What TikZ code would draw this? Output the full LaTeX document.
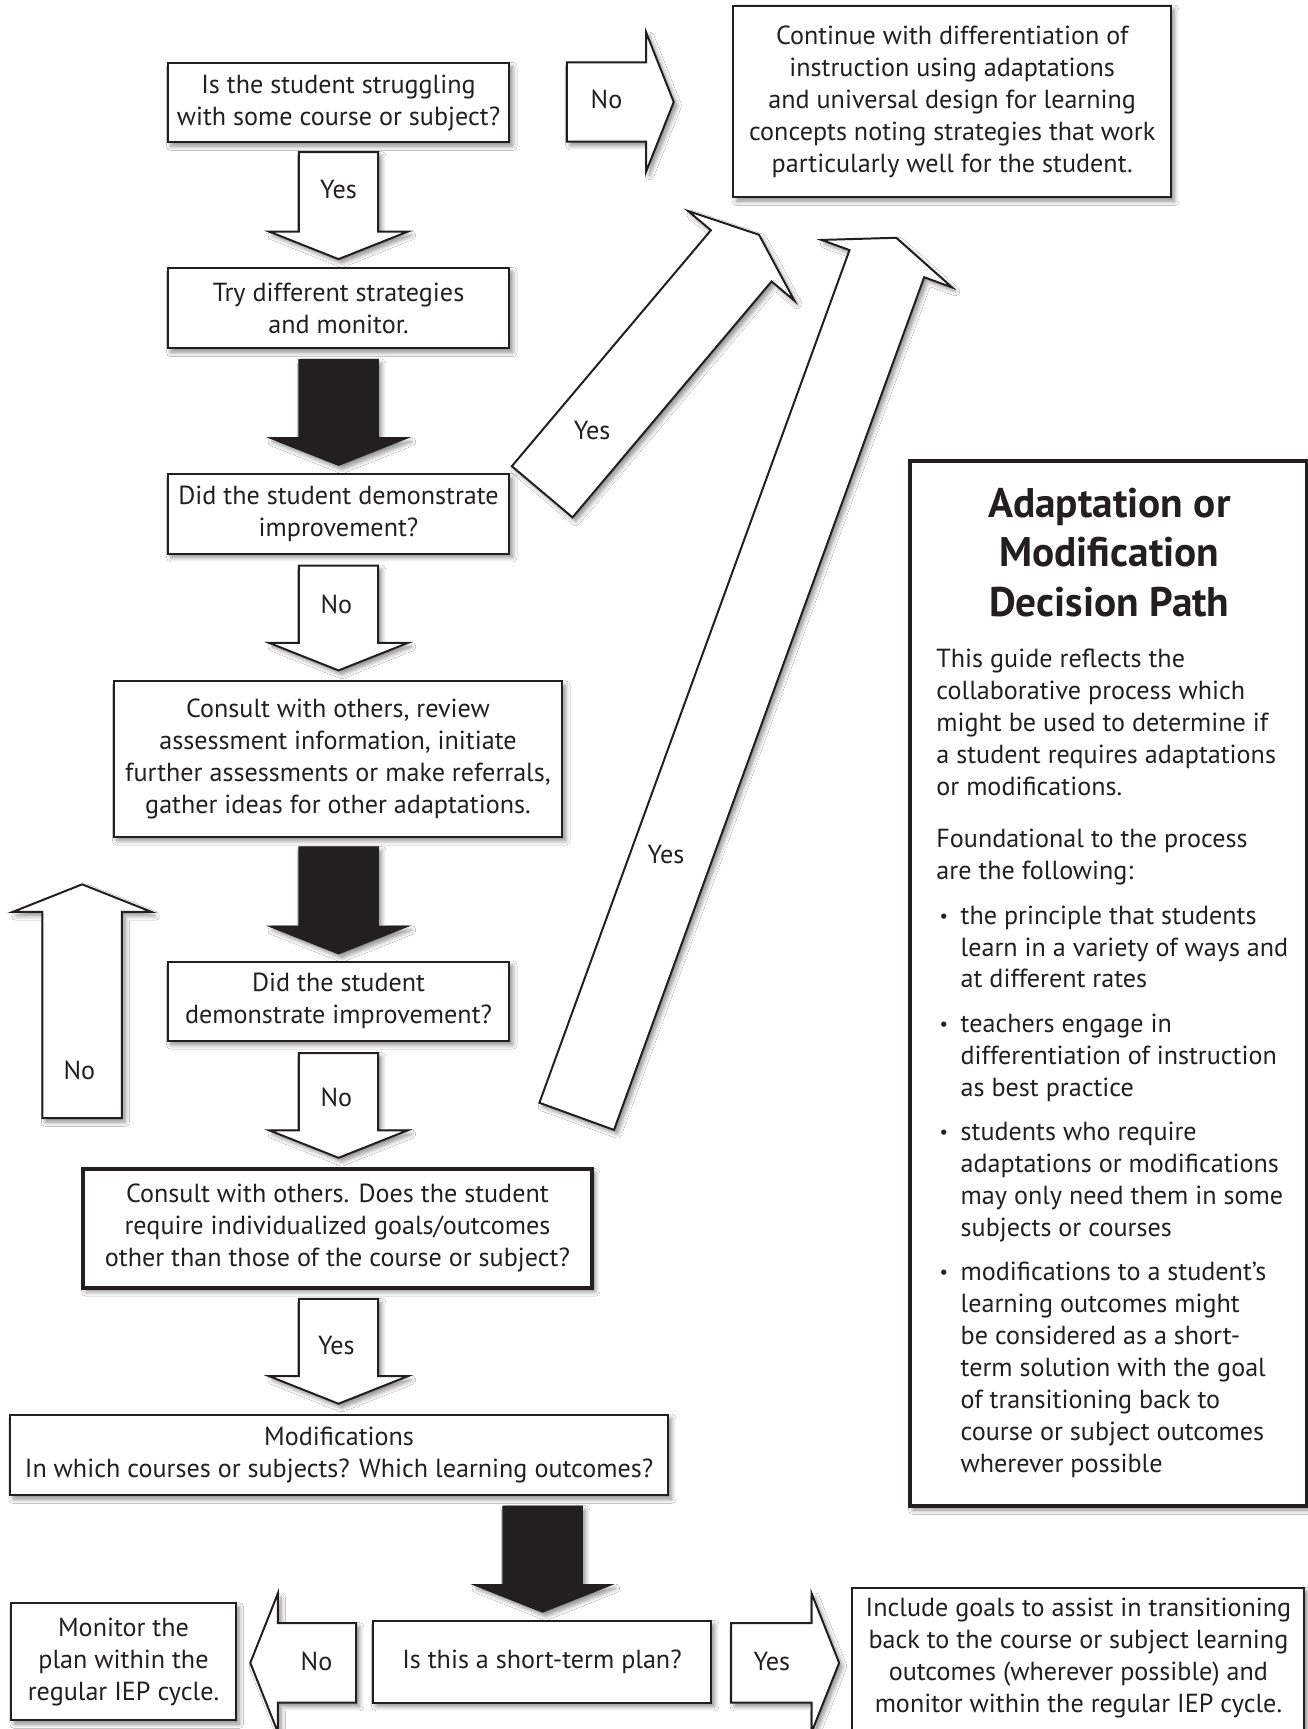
\documentclass[tikz,border=0pt]{standalone}
\usepackage{fontspec}
\setmainfont{PT Sans}
\usetikzlibrary{shadows.blur}
\definecolor{ink}{HTML}{231F20}
\newcommand{\blockarrow}[7]{% style, name, sx, sy, ux, uy, L
  \coordinate (#2-1) at ({#3+36*(#6)},{#4-36*(#5)});
  \coordinate (#2-2) at ({#3+(#7)*(#5)+36*(#6)},{#4+(#7)*(#6)-36*(#5)});
  \coordinate (#2-3) at ({#3+(#7)*(#5)+63*(#6)},{#4+(#7)*(#6)-63*(#5)});
  \coordinate (#2-4) at ({#3+(#7+25)*(#5)},{#4+(#7+25)*(#6)});
  \coordinate (#2-5) at ({#3+(#7)*(#5)-63*(#6)},{#4+(#7)*(#6)+63*(#5)});
  \coordinate (#2-6) at ({#3+(#7)*(#5)-36*(#6)},{#4+(#7)*(#6)+36*(#5)});
  \coordinate (#2-7) at ({#3-36*(#6)},{#4+36*(#5)});
  \draw[#1] (#2-1) -- (#2-2) -- (#2-3) -- (#2-4) -- (#2-5) -- (#2-6) -- (#2-7) -- cycle;}
\newcommand{\smallbullet}{\vphantom{hT}\raisebox{1.2pt}{\fontsize{17}{17}\selectfont\textbullet}}
\tikzset{
  shadowed/.style={blur shadow={shadow xshift=3pt, shadow yshift=-3.5pt, shadow blur radius=4pt, shadow opacity=45, shadow blur steps=6}},
  txt/.style={text=ink, font=\fontsize{23.7}{29}\selectfont},
  box/.style={txt, draw=ink, line width=1.8pt, fill=white, shadowed, align=center, inner sep=0pt},
  thickbox/.style={box, line width=3.8pt},
  warrow/.style={draw=ink, line width=1.8pt, fill=white, shadowed, line join=miter, miter limit=20},
  barrow/.style={draw=ink, fill=ink, line width=1pt, shadowed},
  lbl/.style={txt, inner sep=0pt},
  para/.style={txt, align=left, inner sep=0pt, anchor=north west},
}
\begin{document}
\begin{tikzpicture}[x=1pt,y=-1pt]
\useasboundingbox (0,0) rectangle (1186,1568);
\fill[white] (0,0) rectangle (1186,1568);

% arrows
\blockarrow{warrow}{ay1}{307}{138}{0}{1}{72}
\blockarrow{barrow}{ab1}{307}{326}{0}{1}{71}
\blockarrow{warrow}{an1}{307}{513}{0}{1}{70}
\blockarrow{barrow}{ab2}{307}{768}{0}{1}{72}
\blockarrow{warrow}{an2}{307}{955}{0}{1}{70}
\blockarrow{warrow}{ay2}{307}{1178}{0}{1}{70}
\blockarrow{barrow}{ab3}{492}{1366}{0}{1}{71}
\blockarrow{warrow}{anr}{514}{92.5}{1}{0}{72}
\blockarrow{warrow}{anl}{323}{1508}{-1}{0}{71}
\blockarrow{warrow}{ayr}{663}{1508}{1}{0}{73}
\blockarrow{warrow}{anu}{74.5}{1014}{0}{-1}{187}
\blockarrow{warrow}{ad1}{491.7}{446}{0.6447}{-0.7643}{280}
\blockarrow{warrow}{ad2}{523}{1012.4}{0.3418}{-0.9398}{822.8}

% boxes
\node[box, minimum width=310pt, minimum height=72pt] (q1) at (307,93) {Is the student struggling\\with some course or subject?};
\node[box, minimum width=310pt, minimum height=73pt] (s1) at (307,279.5) {Try different strategies\\and monitor.};
\node[box, minimum width=310pt, minimum height=72pt] (q2) at (307,466) {Did the student demonstrate\\improvement?};
\node[box, minimum width=407pt, minimum height=141pt] (s2) at (306.5,688.5) {Consult with others, review\\assessment information, initiate\\further assessments or make referrals,\\gather ideas for other adaptations.};
\node[box, minimum width=310pt, minimum height=72pt] (q3) at (307,908) {Did the student\\demonstrate improvement?};
\node[thickbox, minimum width=462pt, minimum height=108pt] (q4) at (306,1114) {Consult with others. Does the student\\require individualized goals/outcomes\\other than those of the course or subject?};
\node[box, minimum width=597pt, minimum height=73pt] (m) at (307.5,1319.5) {Modifications\\In which courses or subjects? Which learning outcomes?};
\node[box, minimum width=307pt, minimum height=74pt] (q5) at (491.5,1507) {Is this a short-term plan?};
\node[box, minimum width=204pt, minimum height=106pt] (mon) at (112,1507) {Monitor the\\plan within the\\regular IEP cycle.};
\node[box, minimum width=410pt, minimum height=134pt] (inc) at (978,1507) {};
\node[lbl, align=center] (inct) at (978,1504) {Include goals to assist in transitioning\\back to the course or subject learning\\outcomes (wherever possible) and\\monitor within the regular IEP cycle.};
\node[box, minimum width=397pt, minimum height=174pt] (cont) at (863.5,92) {Continue with differentiation of\\instruction using adaptations\\and universal design for learning\\concepts noting strategies that work\\particularly well for the student.};

% arrow labels
\node[lbl] (l1) at (307,172) {Yes};
\node[lbl] (l2) at (550,90) {No};
\node[lbl] (l3) at (537,390) {Yes};
\node[lbl] (l4) at (305,548) {No};
\node[lbl] (l5) at (604,775) {Yes};
\node[lbl] (l6) at (72,971) {No};
\node[lbl] (l7) at (305,995) {No};
\node[lbl] (l8) at (305,1220) {Yes};
\node[lbl] (l9) at (287,1507) {No};
\node[lbl] (l10) at (700,1507) {Yes};

% sidebar
\node[thickbox, minimum width=360pt, minimum height=948pt] (side) at (1005,892) {};
\node[txt, align=center, inner sep=0pt, font=\fontsize{37.5}{45}\selectfont\bfseries] (title) at (1006,501) {Adaptation or\\Modification\\Decision Path};
\node[para] (p1) at (849,588) {This guide reflects the\\collaborative process which\\might be used to determine if\\a student requires adaptations\\or modifications.};
\node[para] (p2) at (849,752) {Foundational to the process\\are the following:};
\node[para] (b1) at (871,821) {the principle that students\\learn in a variety of ways and\\at different rates};
\node[para] (b2) at (871,919) {teachers engage in\\differentiation of instruction\\as best practice};
\node[para] (b3) at (871,1017) {students who require\\adaptations or modifications\\may only need them in some\\subjects or courses};
\node[para] (b4) at (871,1144) {modifications to a student's\\learning outcomes might\\be considered as a short-\\term solution with the goal\\of transitioning back to\\course or subject outcomes\\wherever possible};
\node[para] (d1) at (852,821) {\smallbullet};
\node[para] (d2) at (852,919) {\smallbullet};
\node[para] (d3) at (852,1017) {\smallbullet};
\node[para] (d4) at (852,1144) {\smallbullet};
\end{tikzpicture}
\end{document}
